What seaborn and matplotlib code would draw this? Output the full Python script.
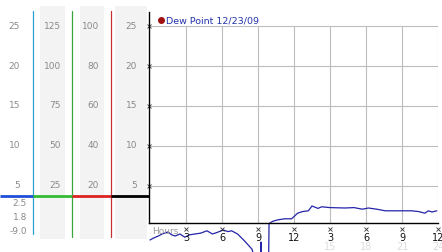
import numpy as np
import pandas as pd
import matplotlib
matplotlib.use("Agg")
import matplotlib.pyplot as plt
import seaborn as sns

# ---- data ----
hours = [0.0, 0.3, 0.7, 1.0, 1.5, 1.8, 2.1, 2.5, 2.9, 3.3, 3.75, 4.2, 4.75, 5.2,
         5.6, 6.1, 6.5, 6.8, 7.3, 7.9, 8.5, 8.8, 9.1, 9.22, 9.25, 9.28, 9.85,
         9.92, 10.25, 10.6, 11.2, 11.8, 12.3, 12.7, 13.2, 13.5, 14.0, 14.3,
         15.0, 16.25, 17.0, 17.7, 18.2, 18.9, 19.6, 20.5, 21.8, 22.4, 22.9,
         23.2, 23.5, 23.9]
dew = [-1.75, -1.5, -1.25, -1.0, -0.75, -1.1, -1.25, -1.0, -1.4, -1.1, -1.0,
       -0.9, -0.6, -1.0, -0.8, -0.5, -0.7, -0.6, -1.0, -1.9, -2.9, -4.5, -6.0,
       -9.0, -2.0, -9.0, -9.0, 0.3, 0.6, 0.75, 0.9, 0.9, 1.6, 1.8, 1.9, 2.5,
       2.2, 2.4, 2.3, 2.25, 2.3, 2.1, 2.25, 2.1, 1.9, 1.9, 1.9, 1.8, 1.6, 1.9,
       1.75, 1.9]
series_label = "Dew Point 12/23/09"
x_ticks = [3, 6, 9, 12, 15, 18, 21, 24]
x_tick_labels = ["3", "6", "9", "12", "3", "6", "9", "12"]
x_tick_labels_24h = ["15", "18", "21", "24"]
y_ticks = [5, 10, 15, 20, 25]
scale_a = ["25", "20", "15", "10", "5"]
scale_a_extra = ["2.5", "1.8", "-9.0"]
scale_b = ["125", "100", "75", "50", "25"]
scale_c = ["100", "80", "60", "40", "20"]
scale_d = ["25", "20", "15", "10", "5"]

W, H = 442, 253
fig = plt.figure(figsize=(W / 100, H / 100), dpi=100)
fig.patch.set_facecolor("white")
sns.set_style("white")
plt.rcParams['font.family'] = ['DejaVu Sans']

def px(x0, y0, x1, y1):
    return [x0 / W, 1 - y1 / H, (x1 - x0) / W, (y1 - y0) / H]

# ---- left panel (pixel coordinates) ----
lp = fig.add_axes(px(0, 0, 149, 253))
lp.set_xlim(0, 149)
lp.set_ylim(253, 0)
lp.axis("off")
for (a, b) in [(40, 65), (80, 104), (115, 147)]:
    lp.add_patch(plt.Rectangle((a, 7), b - a, 233, color="#f3f3f3", lw=0))
lp.plot([33, 33], [12, 235], color="#2a9fd0", lw=0.9)
lp.plot([72, 72], [12, 238], color="#3aa53a", lw=0.9)
lp.plot([111, 111], [12, 238], color="#c83030", lw=0.9)
lp.plot([0, 33], [197, 197], color="#1f4fd8", lw=2.0, solid_capstyle="butt")
lp.plot([33, 72], [197, 197], color="#33bb33", lw=2.0, solid_capstyle="butt")
lp.plot([72, 111], [197, 197], color="#dd2222", lw=2.0, solid_capstyle="butt")
lp.plot([111, 149], [197, 197], color="black", lw=2.0, solid_capstyle="butt")
ys = [26, 66, 106, 146, 186]
tcol = "#8a8a8a"
fs = 6.5
for labels, xr in [(scale_a, 20), (scale_b, 61), (scale_c, 99), (scale_d, 137)]:
    for lab, yy in zip(labels, ys):
        lp.text(xr, yy, lab, ha="right", va="center", fontsize=fs, color=tcol)
for lab, yy in zip(scale_a_extra, [204, 218, 232]):
    lp.text(27, yy, lab, ha="right", va="center", fontsize=fs, color=tcol)

# ---- main chart ----
ax = fig.add_axes(px(149, 13, 438, 224))
ax.set_xlim(-1 / 12, 24)
ax.set_ylim((227 - 224) / 8, (227 - 13) / 8)
ax.set_facecolor("none")
for s in ["top", "right"]:
    ax.spines[s].set_visible(False)
for s in ["left", "bottom"]:
    ax.spines[s].set_color("black")
    ax.spines[s].set_linewidth(1.0)
ax.hlines(y_ticks, 0, 24, color="#bdbdbd", lw=0.8, zorder=0)
ax.vlines(x_ticks, ax.get_ylim()[0], 25, color="#bdbdbd", lw=0.8, zorder=0)
ax.set_xticks([])
ax.set_yticks([])

df = pd.DataFrame({"hour": hours, "dew": dew})
sns.lineplot(data=df, x="hour", y="dew", sort=False, color="#2424a8",
             lw=0.9, ax=ax, legend=False)
ax.lines[-1].set_clip_on(False)
ax.set_xlabel("")
ax.set_ylabel("")

# y tick marks (small x glyph marks)
ax.plot([-0.12] * len(y_ticks), y_ticks, ls="none", marker="x", ms=2.2,
        mew=0.6, color="#333333", clip_on=False)
# x ticks
yb = ax.get_ylim()[0]
ax.plot(x_ticks, [yb - 0.75] * len(x_ticks), ls="none", marker="x", ms=2.2,
        mew=0.6, color="#333333", clip_on=False)
for xt, lab in zip(x_ticks, x_tick_labels):
    ax.text(xt, yb - 1.75, lab, ha="center", va="center", fontsize=7,
            color="#111111", clip_on=False)
for xt, lab in zip(x_ticks[4:], x_tick_labels_24h):
    ax.text(xt, yb - 2.9, lab, ha="center", va="center", fontsize=7,
            color="#dcdcdc", clip_on=False)
ax.text(0.2, yb - 1.0, "Hours", ha="left", va="center", fontsize=6.5,
        color="#999999", clip_on=False)

# legend
ax.plot([0.95], [(227 - 21) / 8], marker="o", ms=4, color="#a01010",
        ls="none", clip_on=False)
ax.text(1.3, (227 - 21) / 8, series_label, ha="left", va="center",
        fontsize=6.8, color="#2233aa")

fig.savefig("out.png", dpi=100)
